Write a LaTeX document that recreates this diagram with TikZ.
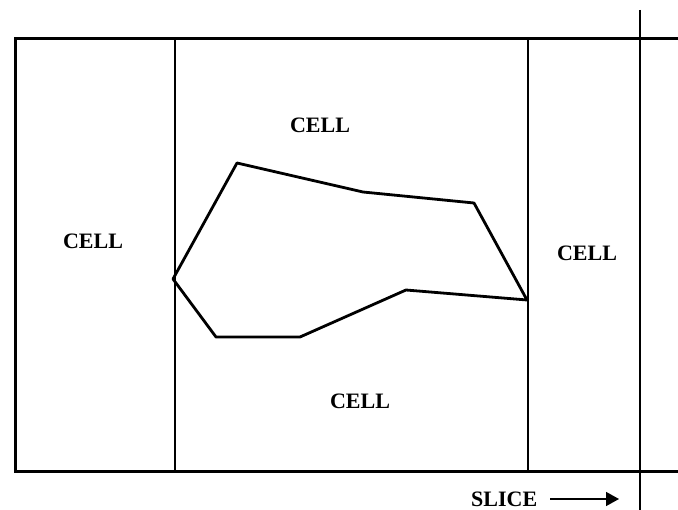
\documentclass[tikz,border=0pt]{standalone}
\usepackage{fontspec}
\setmainfont{Liberation Serif}
\usetikzlibrary{arrows.meta}
\begin{document}
\begin{tikzpicture}[x=1pt,y=-1pt,
  celllabel/.style={font=\fontsize{22}{25}\selectfont\bfseries, inner sep=0pt},
  thickline/.style={line width=3pt, line join=miter},
  thinline/.style={line width=1.4pt},
  regionline/.style={line width=2.8pt, line join=round}]
\useasboundingbox (0,0) rectangle (678,510);
% outer frame (open on the right)
\draw[thickline] (678,39) -- (15,39) -- (15,472) -- (678,472);
% slice boundaries
\draw[thinline] (175,39) -- (175,472);
\draw[thinline] (528,39) -- (528,472);
\draw[thinline] (640,10) -- (640,510);
% region polygon
\draw[regionline] (173,279) -- (237,163) -- (363,192) -- (474,203) -- (527,300)
  -- (406,290) -- (300,337) -- (216,337) -- cycle;
% labels
\node[celllabel] (c1) at (320,125) {CELL};
\node[celllabel] (c2) at (93,241) {CELL};
\node[celllabel] (c3) at (587,253) {CELL};
\node[celllabel] (c4) at (360,401) {CELL};
\node[celllabel, anchor=west] (slice) at (471,499) {SLICE};
\coordinate (aend) at (619,499);
\draw[line width=1.6pt, -{Triangle[length=13pt,width=14pt]}] (550,499) -- (aend);
\end{tikzpicture}
\end{document}
